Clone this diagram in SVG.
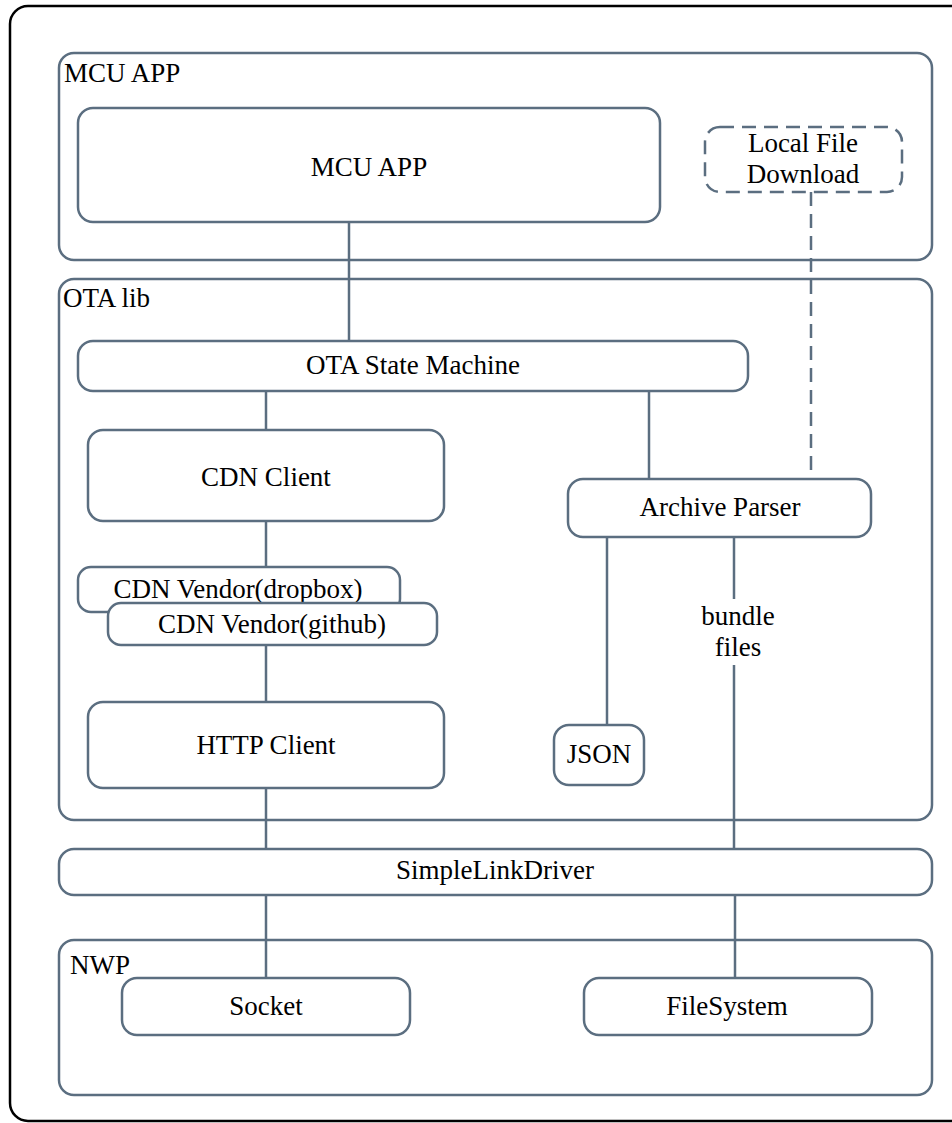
<svg xmlns="http://www.w3.org/2000/svg" width="952" height="1123" viewBox="0 0 952 1123">
<style>
.box{fill:none;stroke:#5b6e80;stroke-width:2.5}
.node{fill:#fff;stroke:#5b6e80;stroke-width:2.5}
.dash{fill:#fff;stroke:#5b6e80;stroke-width:2.5;stroke-dasharray:14 8}
.ln{stroke:#5b6e80;stroke-width:2.5;fill:none}
.dln{stroke:#5b6e80;stroke-width:2.5;fill:none;stroke-dasharray:14 8}
text{font-family:"Liberation Serif","DejaVu Serif",serif;font-size:27px;fill:#000}
.c{text-anchor:middle}
</style>
<rect x="0" y="0" width="952" height="1123" fill="#fff"/>
<rect x="10" y="6" width="965" height="1115" rx="18" fill="none" stroke="#000" stroke-width="2.5"/>

<g id="containers">
<g id="mcu-app-group"><rect class="box" x="59" y="53" width="873" height="207" rx="15"/><text x="64" y="82">MCU APP</text></g>
<g id="ota-lib-group"><rect class="box" x="59" y="279" width="873" height="541" rx="15"/><text x="63" y="307">OTA lib</text></g>
<g id="nwp-group"><rect class="box" x="59" y="940" width="873" height="155" rx="15"/><text x="70" y="974">NWP</text></g>
</g>

<g id="connectors">
<line class="ln" x1="349" y1="222" x2="349" y2="341"/>
<line class="dln" x1="811" y1="192" x2="811" y2="479"/>
<line class="ln" x1="266" y1="391" x2="266" y2="430"/>
<line class="ln" x1="649" y1="391" x2="649" y2="479"/>
<line class="ln" x1="266" y1="521" x2="266" y2="567"/>
<line class="ln" x1="266" y1="645" x2="266" y2="702"/>
<line class="ln" x1="607" y1="537" x2="607" y2="725"/>
<line class="ln" x1="734" y1="537" x2="734" y2="599"/>
<line class="ln" x1="734" y1="665" x2="734" y2="849"/>
<line class="ln" x1="266" y1="788" x2="266" y2="849"/>
<line class="ln" x1="266" y1="895" x2="266" y2="978"/>
<line class="ln" x1="735" y1="895" x2="735" y2="978"/>
<text class="c" x="738" y="625">bundle</text>
<text class="c" x="738" y="656">files</text>
</g>

<g id="mcu-app"><rect class="node" x="78" y="108" width="582" height="114" rx="15"/><text class="c" x="369" y="176">MCU APP</text></g>
<g id="local-file-download"><rect class="dash" x="705" y="127" width="197" height="65" rx="15"/><text class="c" x="803" y="152">Local File</text><text class="c" x="803" y="183">Download</text></g>
<g id="ota-state-machine"><rect class="node" x="78" y="341" width="670" height="50" rx="15"/><text class="c" x="413" y="374">OTA State Machine</text></g>
<g id="cdn-client"><rect class="node" x="88" y="430" width="356" height="91" rx="15"/><text class="c" x="266" y="486">CDN Client</text></g>
<g id="archive-parser"><rect class="node" x="568" y="479" width="303" height="58" rx="15"/><text class="c" x="720" y="516">Archive Parser</text></g>
<g id="cdn-vendor-dropbox"><rect class="node" x="78" y="567" width="322" height="45" rx="13"/><text class="c" x="238" y="598">CDN Vendor(dropbox)</text></g>
<g id="cdn-vendor-github"><rect class="node" x="108" y="603" width="329" height="42" rx="13"/><text class="c" x="272" y="633">CDN Vendor(github)</text></g>
<g id="http-client"><rect class="node" x="88" y="702" width="356" height="86" rx="15"/><text class="c" x="266" y="754">HTTP Client</text></g>
<g id="json"><rect class="node" x="554" y="725" width="90" height="60" rx="15"/><text class="c" x="599" y="763">JSON</text></g>
<g id="simplelinkdriver"><rect class="node" x="59" y="849" width="873" height="46" rx="15"/><text class="c" x="495" y="879">SimpleLinkDriver</text></g>
<g id="socket"><rect class="node" x="122" y="978" width="288" height="57" rx="15"/><text class="c" x="266" y="1015">Socket</text></g>
<g id="filesystem"><rect class="node" x="584" y="978" width="288" height="57" rx="15"/><text class="c" x="727" y="1015">FileSystem</text></g>
</svg>
